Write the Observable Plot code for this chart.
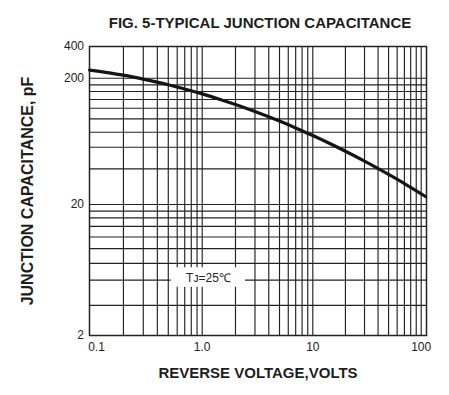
<!DOCTYPE html>
<html>
<head>
<meta charset="utf-8">
<script src="https://cdn.jsdelivr.net/npm/d3@7"></script>
<script src="https://cdn.jsdelivr.net/npm/@observablehq/plot@0.6"></script>
<style>
  html, body { margin: 0; padding: 0; background: #fff; }
  #chart { width: 449px; height: 395px; position: relative; font-family: "Liberation Sans", Arial, sans-serif; }
  #title { height: 38px; box-sizing: border-box; padding-top: 13px; padding-left: 71px; line-height: 20px;
           text-align: center; font-weight: bold; font-size: 15px; color: #1e1e1e; white-space: nowrap; }
  svg { display: block; }
</style>
</head>
<body>
<div id="chart"><div id="title">FIG. 5-TYPICAL JUNCTION CAPACITANCE</div></div>
<script>
// Curve: reverse voltage (V) vs junction capacitance (pF)
const voltage     = [0.1, 0.15, 0.2, 0.3, 0.5, 0.7, 1, 1.5, 2, 3, 5, 7, 10, 15, 20, 30, 50, 70, 100, 110];
const capacitance = [239, 225, 213.6, 196.7, 177.6, 164.3, 150.2, 134.6, 123.8, 109, 91.5, 80.8, 70.4, 59.7, 52.8, 44.1, 34.6, 29.3, 24.3, 23.1];

// Axis ticks and labels
const xTicks = [0.1, 1, 10, 100];
const xTickLabels = ["0.1", "1.0", "10", "100"];
const yTicks = [2, 20, 200, 400];
const yTickLabels = ["2", "20", "200", "400"];

// Grid lines (log paper)
const xGrid = [0.2, 0.3, 0.4, 0.5, 0.6, 0.7, 0.8, 0.9, 1, 2, 3, 4, 5, 6, 7, 8, 9, 10, 20, 30, 40, 50, 60, 70, 80, 90, 100];
const yGrid = [3.4, 5.3, 7.1, 9.2, 11.3, 13.6, 15.8, 17.8, 20, 38.3, 56.8, 74.7, 95.4, 115.7, 135.6, 157, 177.3, 200];

// Annotation
const noteLabel = ["Tᴊ=25℃"];
const noteX = [1.14], noteY = [5.5];
const noteBoxX = [0.53, 2.46], noteBoxY = [4.67, 6.57];

const data = voltage.map((v, i) => ({v, c: capacitance[i]}));
const note = [{label: noteLabel[0], x: noteX[0], y: noteY[0], x1: noteBoxX[0], x2: noteBoxX[1], y1: noteBoxY[0], y2: noteBoxY[1]}];

const ink = "#222";
const font = "Liberation Sans, Arial, sans-serif";

const svg = Plot.plot({
  width: 449,
  height: 357,
  marginLeft: 89,
  marginRight: 23,
  marginTop: 8,
  marginBottom: 60,
  style: {fontFamily: font, background: "white", overflow: "visible"},
  x: {type: "log", domain: [0.1, 1, 10, 100, 112], range: [89, 201.7, 312.3, 420.7, 426], axis: null},
  y: {type: "log", domain: [2, 20, 200, 400], range: [297, 166, 39.7, 8], axis: null},
  marks: [
    Plot.ruleX(xGrid, {x: d => d, stroke: ink, strokeWidth: 1.15}),
    Plot.ruleY(yGrid, {y: d => d, stroke: ink, strokeWidth: 1.15}),
    Plot.rect(note, {x1: "x1", x2: "x2", y1: "y1", y2: "y2", fill: "white"}),
    Plot.text(note, {x: "x", y: "y", text: "label", fontSize: 12, fill: ink}),
    Plot.frame({stroke: ink, strokeWidth: 1.5}),
    Plot.line(data, {x: "v", y: "c", curve: "monotone-x", stroke: "#151515", strokeWidth: 3.2}),
    // x tick labels (first one nudged inward as in the reference)
    Plot.text(xTicks, {filter: (d, i) => i === 0, x: d => d, text: (d, i) => xTickLabels[i], frameAnchor: "bottom", dy: 15, dx: 7, fontSize: 12, fill: ink}),
    Plot.text(xTicks, {filter: (d, i) => i > 0, x: d => d, text: (d, i) => xTickLabels[i], frameAnchor: "bottom", dy: 15, fontSize: 12, fill: ink}),
    // y tick labels
    Plot.text(yTicks, {y: d => d, text: (d, i) => yTickLabels[i], frameAnchor: "left", dx: -5.5, textAnchor: "end", fontSize: 12, fill: ink}),
    // axis titles
    Plot.text(["REVERSE VOLTAGE,VOLTS"], {text: d => d, frameAnchor: "bottom", dy: 42, fontSize: 15, fontWeight: "bold", fill: "#1e1e1e"}),
    Plot.text(["JUNCTION CAPACITANCE, pF"], {text: d => d, frameAnchor: "left", dx: -62, rotate: -90, textAnchor: "middle", fontSize: 16, fontWeight: "bold", fill: "#1e1e1e"})
  ]
});
document.getElementById("chart").appendChild(svg);
</script>
</body>
</html>
